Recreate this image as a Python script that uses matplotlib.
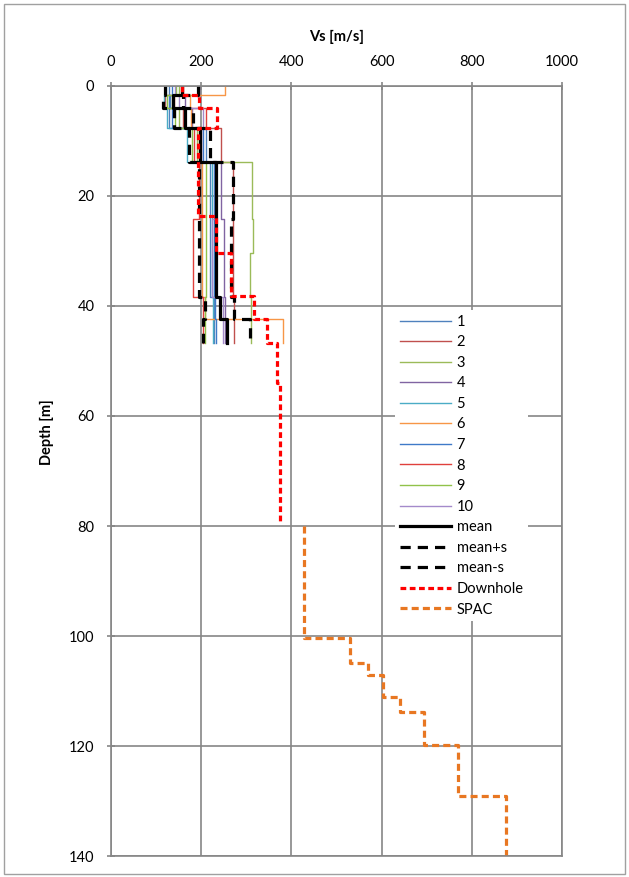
import matplotlib
matplotlib.use('Agg')
import matplotlib.pyplot as plt
from matplotlib.patches import Rectangle

plt.rcParams['font.family'] = ['Lato', 'DejaVu Sans']

# layer tops [m] shared by the 10 profiles, profiles end at 46.7 m
layer_top = [0, 1.6, 4.05, 7.7, 13.9, 24.1, 30.3, 38.3, 42.4]
layer_end = 46.7

prof = {
    '1':  [128, 130, 128, 210, 220, 220, 220, 228, 228],
    '2':  [160, 120, 160, 243, 271, 271, 271, 272, 272],
    '3':  [150, 135, 150, 190, 313, 315, 309, 310, 310],
    '4':  [195, 165, 180, 200, 245, 250, 250, 253, 253],
    '5':  [122, 118, 124, 168, 224, 224, 224, 226, 226],
    '6':  [252, 176, 178, 195, 202, 202, 202, 208, 381],
    '7':  [135, 128, 135, 205, 228, 228, 228, 230, 232],
    '8':  [158, 140, 210, 185, 195, 181, 181, 205, 205],
    '9':  [145, 125, 143, 180, 210, 210, 210, 209, 209],
    '10': [143, 150, 205, 200, 230, 225, 225, 248, 248],
}
colors = ['#4F81BD', '#C0504D', '#9BBB59', '#8064A2', '#4BACC6',
          '#F79646', '#3F7AC8', '#E0403C', '#91C24A', '#A48ACB']

mean = [157, 138, 165, 198, 232, 232, 232, 241, 257]
mean_p = [193, 160, 182, 219, 270, 267, 267, 273, 309]
mean_m = [120, 116, 140, 174, 195, 195, 195, 208, 203]

dh_top = [0, 1.6, 4.05, 7.6, 23.6, 30.3, 38.2, 42.4, 46.7, 54]
dh_vs = [158, 196, 235, 192, 232, 267, 317, 345, 368, 374]
dh_end = 79

spac_top = [80, 100.4, 104.9, 107, 111, 113.8, 119.9, 129]
spac_vs = [427, 530, 570, 604, 641, 693, 770, 876]
spac_end = 140


def steps(tops, vals, end):
    xs = []
    ys = []
    bots = list(tops[1:]) + [end]
    for t, b, v in zip(tops, bots, vals):
        xs += [v, v]
        ys += [t, b]
    return xs, ys


fig = plt.figure(figsize=(6.29, 8.77), dpi=100)
ax = fig.add_axes([111/629, 1-856/877, (562-111)/629, (856-86)/877])

for (name, v), c in zip(prof.items(), colors):
    x, y = steps(layer_top, v, layer_end)
    ax.plot(x, y, color=c, lw=1.0, label=name)

x, y = steps(layer_top, mean, layer_end)
ax.plot(x, y, color='black', lw=2.3, label='mean')
x, y = steps(layer_top, mean_p, layer_end)
ax.plot(x, y, color='black', lw=2.3, dashes=(3.2, 2.2), label='mean+s')
x, y = steps(layer_top, mean_m, layer_end)
ax.plot(x, y, color='black', lw=2.3, dashes=(3.2, 2.2), label='mean-s')
x, y = steps(dh_top, dh_vs, dh_end)
ax.plot(x, y, color='#FF0000', lw=2.3, dashes=(1.8, 1.1), label='Downhole')
x, y = steps(spac_top, spac_vs, spac_end)
ax.plot(x, y, color='#E87722', lw=2.3, dashes=(2.2, 1.3), label='SPAC')

ax.set_xlim(0, 1000)
ax.set_ylim(140, 0)
ax.set_xticks(range(0, 1001, 200))
ax.set_yticks(range(0, 141, 20))
ax.xaxis.tick_top()
ax.grid(True, color='#868686', lw=1.2)
ax.set_axisbelow(True)
for s in ax.spines.values():
    s.set_color('#868686')
    s.set_linewidth(1.2)
ax.tick_params(direction='inout', length=6, width=1.2, color='#868686',
               labelsize=10.5, pad=9)

leg = ax.legend(loc='upper left', bbox_to_anchor=(388/629, 1-303/877),
                bbox_transform=fig.transFigure, fontsize=10.5, frameon=True,
                fancybox=False, framealpha=1, edgecolor='none',
                handlelength=3.5, handletextpad=0.4, labelspacing=0.45,
                borderpad=0.3)

fig.text(337/629, 1-37/877, 'Vs [m/s]', ha='center', va='center',
         fontsize=10.5, fontweight='bold')
fig.text(47/629, 1-432/877, 'Depth [m]', ha='center', va='center',
         rotation=90, fontsize=10.5, fontweight='bold')

fig.patches.append(Rectangle((4/629, 3/877), 621/629, 870/877,
                             transform=fig.transFigure, fill=False,
                             edgecolor='#A0A0A0', lw=1))

fig.savefig('out.png', dpi=100)
